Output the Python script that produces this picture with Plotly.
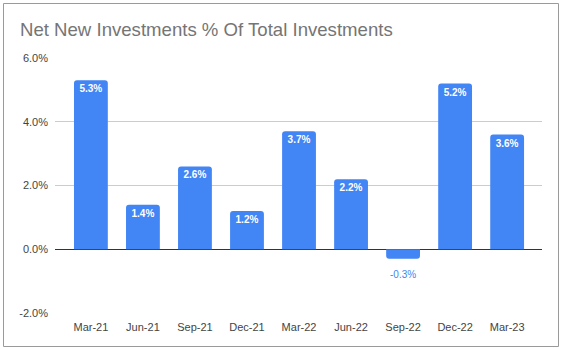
import plotly.graph_objects as go

# Quarter labels and net new investments as % of total investments
quarters = ["Mar-21", "Jun-21", "Sep-21", "Dec-21", "Mar-22",
            "Jun-22", "Sep-22", "Dec-22", "Mar-23"]
net_new_pct = [5.3, 1.4, 2.6, 1.2, 3.7, 2.2, -0.3, 5.2, 3.6]
y_ticks = [-2.0, 0.0, 2.0, 4.0, 6.0]

W, H = 562, 349
L, R, T, B = 55, 20, 58, 36
BLUE = "#4285F4"
FONT = "Liberation Sans, Arial"

labels = [f"{v:.1f}%" for v in net_new_pct]

fig = go.Figure(
    go.Bar(
        x=quarters,
        y=net_new_pct,
        marker=dict(color=BLUE, line=dict(width=0)),
        width=0.65,
        text=[t if v >= 0 else "" for t, v in zip(labels, net_new_pct)],
        textposition="inside",
        insidetextanchor="end",
        insidetextfont=dict(color="white", size=10, family=FONT, weight="bold"),
        constraintext="none",
        hoverinfo="skip",
    )
)

# negative values are labelled just below the bar end
for q, v, t in zip(quarters, net_new_pct, labels):
    if v < 0:
        fig.add_annotation(
            x=q, y=v, text=t, showarrow=False,
            yanchor="top", yshift=-8,
            font=dict(color=BLUE, size=10, family=FONT),
        )

# thin grey frame around the whole chart
pw, ph = W - L - R, H - T - B
def px_x(p):
    return (p - L) / pw
def px_y(p):
    return 1 - (p - T) / ph

fig.add_shape(
    type="rect", xref="paper", yref="paper",
    x0=px_x(3.5), x1=px_x(558.5), y0=px_y(346.5), y1=px_y(3.5),
    line=dict(color="#9a9a9a", width=1), fillcolor="rgba(0,0,0,0)", layer="below",
)

fig.update_layout(
    width=W, height=H,
    margin=dict(l=L, r=R, t=T, b=B),
    paper_bgcolor="white", plot_bgcolor="white",
    barcornerradius=3,
    showlegend=False,
    title=dict(
        text="Net New Investments % Of Total Investments",
        font=dict(family=FONT, size=18.6, color="#757575"),
        x=20 / W, xanchor="left", xref="container",
        y=1 - 29.5 / H, yanchor="middle", yref="container",
    ),
    font=dict(family=FONT, size=11, color="#444444"),
)

fig.update_xaxes(
    type="category",
    range=[-0.69, 8.67],
    showgrid=False, showline=False, ticks="",
    tickfont=dict(size=11, color="#444444"),
    ticklabelstandoff=6,
)
fig.update_yaxes(
    range=[-2.0, 6.0],
    tickvals=y_ticks,
    ticktext=[f"{v:.1f}%" for v in y_ticks],
    showgrid=True, gridcolor="#cccccc", gridwidth=1,
    zeroline=True, zerolinecolor="#333333", zerolinewidth=1,
    showline=False, ticks="",
    tickfont=dict(size=11, color="#444444"),
    ticklabelstandoff=6,
)

fig.write_html("out.html")
